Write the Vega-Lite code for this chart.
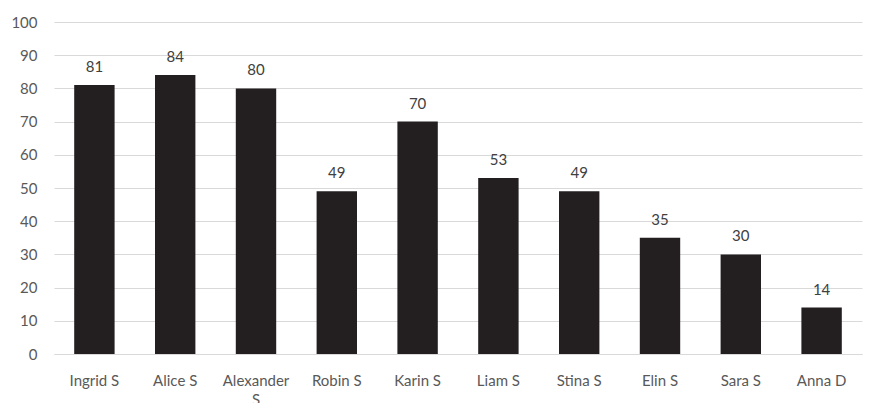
{
  "$schema": "https://vega.github.io/schema/vega-lite/v6.json",
  "autosize": {"type": "none"},
  "padding": {"left": 54, "top": 22, "right": 7, "bottom": 49},
  "width": 808,
  "height": 332,
  "background": "white",
  "config": {
    "view": {"stroke": null},
    "font": "Lato",
    "axis": {"labelColor": "#595959", "labelFontSize": 15, "labelFont": "Lato"}
  },
  "data": {
    "values": [
      {"name": "Ingrid S", "score": 81},
      {"name": "Alice S", "score": 84},
      {"name": "Alexander S", "score": 80},
      {"name": "Robin S", "score": 49},
      {"name": "Karin S", "score": 70},
      {"name": "Liam S", "score": 53},
      {"name": "Stina S", "score": 49},
      {"name": "Elin S", "score": 35},
      {"name": "Sara S", "score": 30},
      {"name": "Anna D", "score": 14}
    ]
  },
  "encoding": {
    "x": {
      "field": "name",
      "type": "nominal",
      "sort": null,
      "scale": {"paddingInner": 0.5, "paddingOuter": 0.25},
      "axis": {
        "title": null,
        "labelAngle": 0,
        "ticks": false,
        "domainColor": "#d9d9d9",
        "domainWidth": 1,
        "labelPadding": 19,
        "labelLineHeight": 19,
        "labelExpr": "length(datum.label) > 10 ? split(datum.label, ' ') : datum.label"
      }
    },
    "y": {
      "field": "score",
      "type": "quantitative",
      "scale": {"domain": [0, 100]},
      "axis": {
        "title": null,
        "values": [0, 10, 20, 30, 40, 50, 60, 70, 80, 90, 100],
        "domain": false,
        "ticks": false,
        "gridColor": "#d9d9d9",
        "labelPadding": 17
      }
    }
  },
  "layer": [
    {"mark": {"type": "bar", "color": "#231f20"}},
    {
      "mark": {"type": "text", "baseline": "bottom", "dy": -10, "fontSize": 15, "color": "#404040"},
      "encoding": {"text": {"field": "score", "type": "quantitative"}}
    }
  ]
}
